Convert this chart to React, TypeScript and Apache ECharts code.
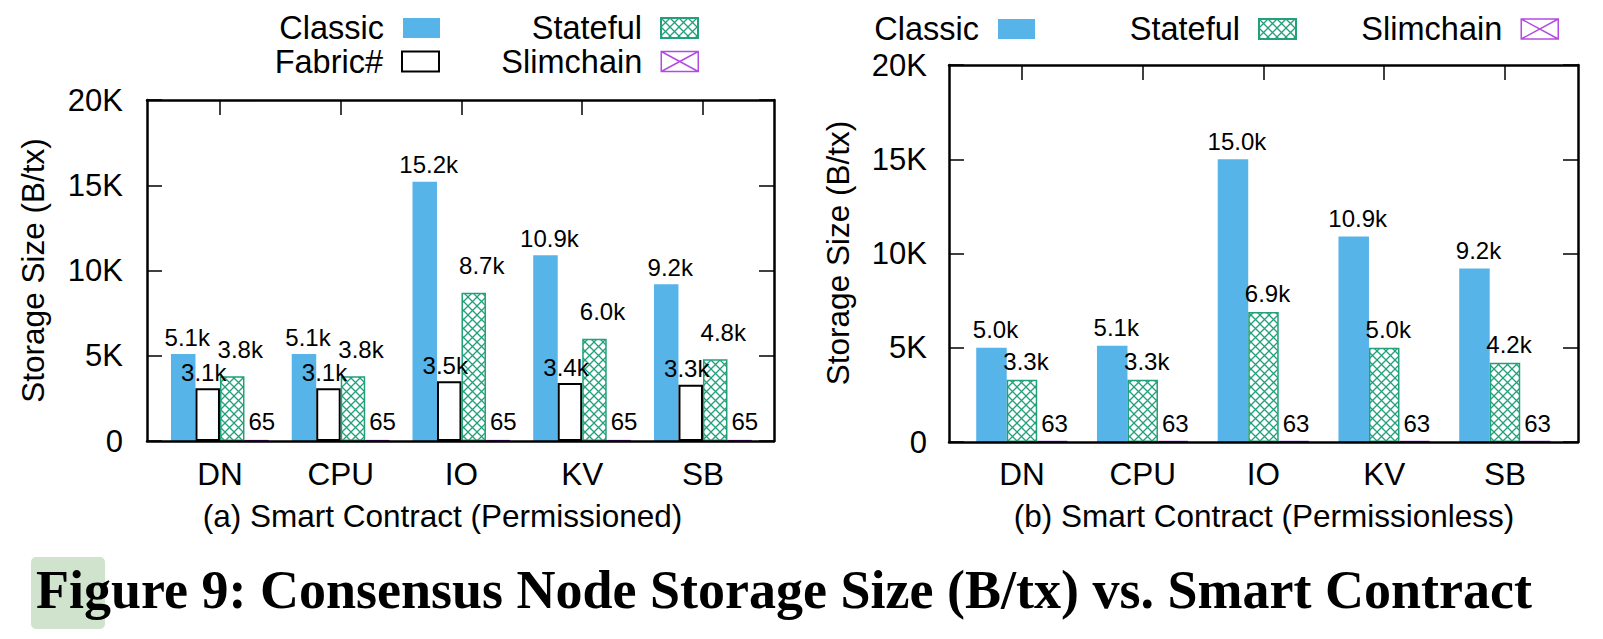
import React, { useEffect, useRef } from "react";
import * as echarts from "echarts";

// ---------- data ----------
const categories = ["DN", "CPU", "IO", "KV", "SB"];

// (a) Permissioned
const permissionedClassic = [5100, 5100, 15200, 10900, 9200];
const permissionedFabric = [3100, 3100, 3500, 3400, 3300];
const permissionedStateful = [3800, 3800, 8700, 6000, 4800];
const permissionedSlimchain = [65, 65, 65, 65, 65];

// (b) Permissionless
const permissionlessClassic = [5000, 5100, 15000, 10900, 9200];
const permissionlessStateful = [3300, 3300, 6900, 5000, 4200];
const permissionlessSlimchain = [63, 63, 63, 63, 63];

const yMin = 0;
const yMax = 20000;
const yInterval = 5000;

const yTitle = "Storage Size (B/tx)";
const subtitleA = "(a) Smart Contract (Permissioned)";
const subtitleB = "(b) Smart Contract (Permissionless)";
const caption = "Figure 9: Consensus Node Storage Size (B/tx) vs. Smart Contract";

// ---------- styles ----------
const SANS = "'Liberation Sans', Arial, Helvetica, sans-serif";
const SERIF = "'Liberation Serif', 'Times New Roman', serif";
const BLUE = "#56B4E9";
const GREEN = "#22a079";
const PURPLE = "#9400d3";

function hatch(color: string, size: number, lw: number) {
  const c = document.createElement("canvas");
  c.width = size;
  c.height = size;
  const ctx = c.getContext("2d")!;
  ctx.fillStyle = "#ffffff";
  ctx.fillRect(0, 0, size, size);
  ctx.strokeStyle = color;
  ctx.lineWidth = lw;
  ctx.beginPath();
  ctx.moveTo(0, 0);
  ctx.lineTo(size, size);
  ctx.moveTo(size, 0);
  ctx.lineTo(0, size);
  ctx.stroke();
  return { image: c.toDataURL(), repeat: "repeat", imageWidth: size, imageHeight: size };
}

const kFmt = (p: any) => {
  const v = Number(p.value);
  return v >= 1000 ? (v / 1000).toFixed(1) + "k" : String(v);
};

export default function App() {
  const ref = useRef<HTMLDivElement>(null);

  useEffect(() => {
    if (!ref.current) return;
    const chart = echarts.init(ref.current, undefined, { renderer: "svg" });
    const greenHatch = hatch(GREEN, 9, 1.3);

    const frameLine = { show: true, onZero: false, lineStyle: { color: "#000", width: 2.5 } };
    const inTick = { show: true, inside: true, length: 15, lineStyle: { color: "#000", width: 1.5 } };

    const frameX = (gridIndex: number, position: string) => ({
      type: "value",
      gridIndex,
      position,
      min: 0,
      max: 1,
      z: 10,
      axisLine: frameLine,
      axisTick: { show: false },
      axisLabel: { show: false },
      splitLine: { show: false },
    });
    const catBottom = (gridIndex: number, margin: number) => ({
      type: "category",
      gridIndex,
      position: "bottom",
      data: categories,
      axisLine: { show: false },
      axisTick: { show: false },
      axisLabel: { color: "#000", fontFamily: SANS, fontSize: 31.5, lineHeight: 32, margin },
      splitLine: { show: false },
    });
    const catTop = (gridIndex: number) => ({
      type: "category",
      gridIndex,
      position: "top",
      data: categories,
      z: 10,
      axisLine: { show: false },
      axisTick: { ...inTick, alignWithLabel: true },
      axisLabel: { show: false },
      splitLine: { show: false },
    });
    const frameY = (gridIndex: number, position: string, labels: boolean, margin: number) => ({
      type: "value",
      gridIndex,
      position,
      min: yMin,
      max: yMax,
      interval: yInterval,
      z: 10,
      axisLine: frameLine,
      axisTick: inTick,
      axisLabel: {
        show: labels,
        color: "#000",
        fontFamily: SANS,
        fontSize: 31,
        margin,
        formatter: (v: number) => (v === 0 ? "0" : v / 1000 + "K"),
      },
      splitLine: { show: false },
    });
    const hiddenY = (gridIndex: number) => ({
      type: "value",
      gridIndex,
      min: yMin,
      max: yMax,
      show: false,
      splitLine: { show: false },
    });

    const label = (distance: number, dx: number) => ({
      show: true,
      position: "top",
      distance,
      offset: [dx, 0],
      color: "#000",
      fontFamily: SANS,
      fontSize: 24,
      formatter: kFmt,
    });

    const bar = (
      name: string,
      data: number[],
      xi: number,
      yi: number,
      width: number,
      itemStyle: any,
      lab: any
    ) => ({
      type: "bar",
      name,
      data,
      xAxisIndex: xi,
      yAxisIndex: yi,
      barWidth: width,
      barGap: "0%",
      itemStyle,
      label: lab,
    });

    const classicStyle = { color: BLUE, borderWidth: 0 };
    const fabricStyle = { color: "#ffffff", borderColor: "#000", borderWidth: 2 };
    const statefulStyle = { color: greenHatch, borderColor: GREEN, borderWidth: 1.5 };
    const slimStyle = { color: PURPLE, borderColor: PURPLE, borderWidth: 1 };

    const legendBase = {
      orient: "horizontal",
      align: "right",
      icon: "rect",
      itemWidth: 37,
      itemHeight: 20,
      padding: 0,
      selectedMode: false,
      textStyle: { color: "#000", fontFamily: SANS, fontSize: 32.5, lineHeight: 32, padding: [0, 14, 0, 0] },
    };
    const slimLegendItem = {
      name: "Slimchain",
      icon: "path://M0,0L37,0L37,20L0,20Z M0,0L37,20 M37,0L0,20",
      itemStyle: { color: "transparent", borderColor: "#b44be1", borderWidth: 1.5 },
    };

    const option: any = {
      animation: false,
      backgroundColor: "#ffffff",
      grid: [
        { left: 147, top: 100, width: 627, height: 341, outerBoundsMode: "none" },
        { left: 159.6, top: 100, width: 603.75, height: 341, outerBoundsMode: "none" },
        { left: 949, top: 65, width: 629, height: 377, outerBoundsMode: "none" },
        { left: 961.6, top: 65, width: 603.75, height: 377, outerBoundsMode: "none" },
      ],
      xAxis: [
        frameX(0, "bottom"),
        frameX(0, "top"),
        catBottom(1, 17),
        catTop(1),
        frameX(2, "bottom"),
        frameX(2, "top"),
        catBottom(3, 16),
        catTop(3),
      ],
      yAxis: [
        frameY(0, "left", true, 24),
        frameY(0, "right", false, 0),
        hiddenY(1),
        frameY(2, "left", true, 22),
        frameY(2, "right", false, 0),
        hiddenY(3),
      ],
      legend: [
        { ...legendBase, data: ["Classic"], right: 1163, top: 11.5 },
        { ...legendBase, data: ["Stateful"], right: 904, top: 11.5 },
        { ...legendBase, data: ["Fabric#"], right: 1163, top: 45 },
        { ...legendBase, data: [slimLegendItem], right: 904, top: 45 },
        { ...legendBase, data: ["Classic"], right: 568, top: 12.5 },
        { ...legendBase, data: ["Stateful"], right: 306, top: 12.5 },
        { ...legendBase, data: [slimLegendItem], right: 44, top: 12.5 },
      ],
      series: [
        bar("Classic", permissionedClassic, 2, 2, 24.5, classicStyle, label(5, 4)),
        bar("Fabric#", permissionedFabric, 2, 2, 24.5, fabricStyle, label(4, -4)),
        bar("Stateful", permissionedStateful, 2, 2, 24.5, statefulStyle, label(15, 8)),
        bar("Slimchain", permissionedSlimchain, 2, 2, 24.5, slimStyle, label(6, 5)),
        bar("Classic", permissionlessClassic, 6, 5, 30.5, classicStyle, label(6, 4)),
        bar("Stateful", permissionlessStateful, 6, 5, 30.5, statefulStyle, label(6, 4)),
        bar("Slimchain", permissionlessSlimchain, 6, 5, 30.5, slimStyle, label(5, 2)),
      ],
      graphic: [
        {
          type: "text",
          x: 33,
          y: 270.5,
          rotation: Math.PI / 2,
          style: { text: yTitle, fill: "#000", font: `31.5px ${SANS}`, align: "center", verticalAlign: "middle" },
        },
        {
          type: "text",
          x: 838,
          y: 253,
          rotation: Math.PI / 2,
          style: { text: yTitle, fill: "#000", font: `31.5px ${SANS}`, align: "center", verticalAlign: "middle" },
        },
        {
          type: "text",
          x: 442.5,
          y: 515.5,
          style: { text: subtitleA, fill: "#000", font: `31.5px ${SANS}`, align: "center", verticalAlign: "middle" },
        },
        {
          type: "text",
          x: 1264,
          y: 515.5,
          style: { text: subtitleB, fill: "#000", font: `31.5px ${SANS}`, align: "center", verticalAlign: "middle" },
        },
        {
          type: "rect",
          shape: { x: 31, y: 557, width: 74, height: 72, r: 5 },
          style: { fill: "#cfe3cd" },
          z: 1,
        },
        {
          type: "text",
          x: 36,
          y: 590,
          z: 2,
          style: { text: caption, fill: "#000", font: `bold 54px ${SERIF}`, align: "left", verticalAlign: "middle" },
        },
      ],
    };

    chart.setOption(option);
    return () => chart.dispose();
  }, []);

  return (
    <div
      ref={ref}
      style={{ position: "absolute", left: 0, top: 0, width: 1603, height: 639, background: "#fff" }}
    />
  );
}
